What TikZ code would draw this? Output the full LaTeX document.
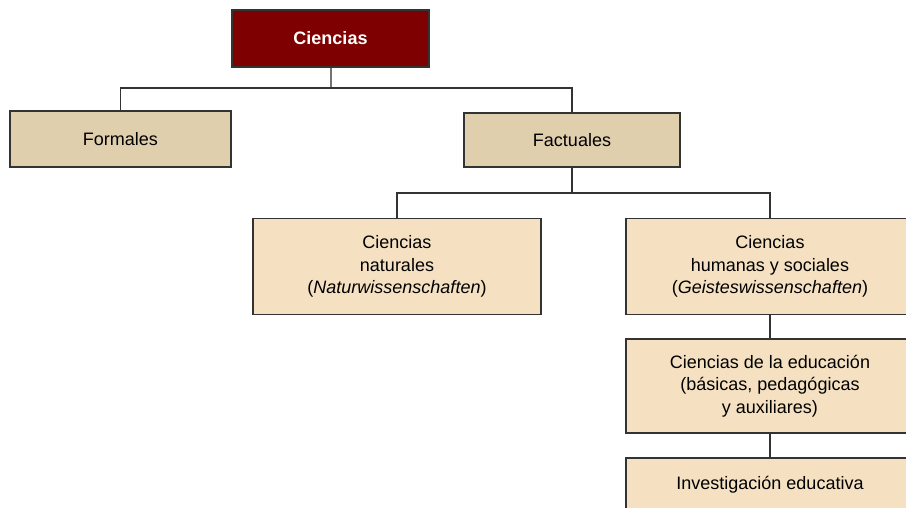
\documentclass[tikz,border=0pt]{standalone}
\usepackage{fontspec}
\setmainfont{Liberation Sans}
\definecolor{guinda}{HTML}{7F0000}
\definecolor{arena}{HTML}{E0CFAD}
\definecolor{crema}{HTML}{F5E1C1}
\definecolor{trazo}{HTML}{333333}
\begin{document}
\begin{tikzpicture}[x=1pt,y=-1pt]
	\tikzset{caja/.style={draw=trazo,line width=1.3pt,inner sep=0pt,align=center,
			font=\fontsize{18}{22.5}\selectfont},
		raiz/.style={caja,fill=guinda,text=white,font=\fontsize{18}{22.5}\selectfont\bfseries,
			minimum width=197pt,minimum height=57pt},
		rama/.style={caja,fill=arena,minimum width=219pt,minimum height=55pt},
		hoja/.style={caja,fill=crema,minimum width=288pt,minimum height=96pt},
		linea/.style={draw=trazo,line width=1.3pt}}
	\clip (0,0) rectangle (906,508);
	% nodos
	\node [raiz] (cien) at (330.5,38.5) {Ciencias};
	\node [rama,minimum width=221pt,minimum height=56pt] (form) at (120.5,139) {Formales};
	\node [rama,minimum width=216pt,minimum height=54pt] (fact) at (572,140) {Factuales};
	\node [hoja,minimum width=288pt] (natu) at (397,266.5) {Ciencias\\naturales\\(\textit{Naturwissenschaften})};
	\node [hoja] (huma) at (770,266.5) {Ciencias\\humanas y sociales\\(\textit{Geisteswissenschaften})};
	\node [hoja,minimum height=94pt] (educ) at (770,386) {Ciencias de la educación\\(básicas, pedagógicas\\y auxiliares)};
	\node [hoja,minimum height=54pt] (inve) at (770,485) {Investigación educativa};
	% uniones
	\coordinate (j1) at (330.5,88);
	\coordinate (j2) at (572,193);
	\draw [line width=2pt,draw=gray!90!black] (cien.south) -- (j1);
	\draw [linea] (form.north) |- (j1) -| (fact.north);
	\draw [linea] (fact.south) -- (j2);
	\draw [linea] (natu.north) |- (j2) -| (huma.north);
	\draw [linea] (huma.south) -- (educ.north);
	\draw [linea] (educ.south) -- (inve.north);
\end{tikzpicture}
\end{document}
